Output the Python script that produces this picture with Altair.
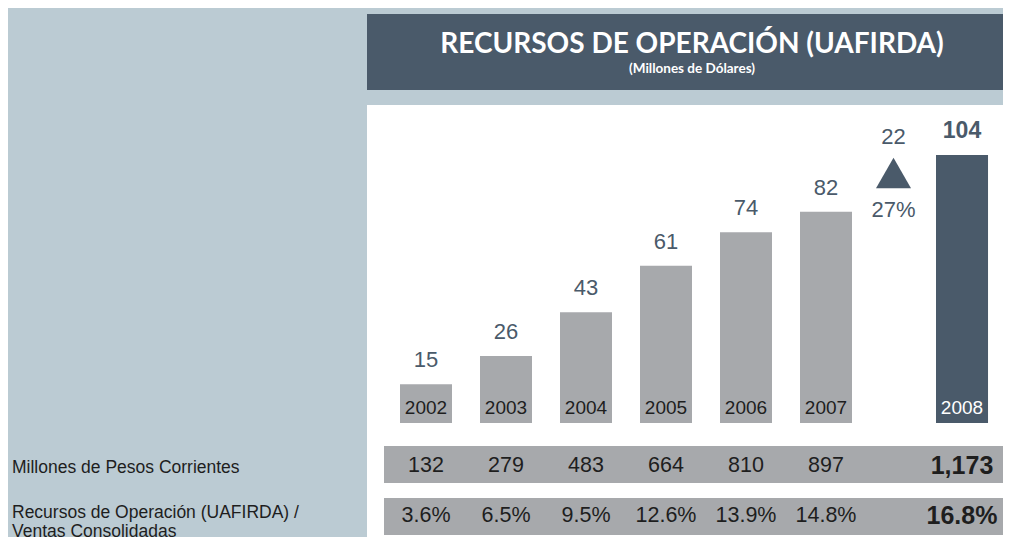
import altair as alt
import pandas as pd

# ---------------- data ----------------
years = ["2002", "2003", "2004", "2005", "2006", "2007", "2008"]
uafirda = [15, 26, 43, 61, 74, 82, 104]          # Millones de Dólares
pesos = ["132", "279", "483", "664", "810", "897", "1,173"]
ratio = ["3.6%", "6.5%", "9.5%", "12.6%", "13.9%", "14.8%", "16.8%"]
growth_abs = "22"
growth_pct = "27%"
title_text = "RECURSOS DE OPERACIÓN (UAFIRDA)"
subtitle_text = "(Millones de Dólares)"
row_label_1 = "Millones de Pesos Corrientes"
row_label_2 = ["Recursos de Operación (UAFIRDA) /", "Ventas Consolidadas"]

df = pd.DataFrame({"year": years, "value": uafirda, "pesos": pesos, "ratio": ratio})
hist = df.iloc[:-1]
cur = df.iloc[-1:]
growth = pd.DataFrame({"year": ["Δ"], "abs": [growth_abs], "pct": [growth_pct]})
one = pd.DataFrame({"k": [0]})

# ---------------- layout / style ----------------
W, H = 995, 529
LIGHT = "#BBCBD3"
DARK = "#4A5A6A"
GREY = "#A7A9AC"
INK = "#1E1E1E"
FONT = "Liberation Sans, sans-serif"
TITLEFONT = "Lato, sans-serif"

xA = alt.X("year:N", axis=None,
           scale=alt.Scale(domain=years[:-1], range=[378, 858],
                           paddingInner=0.35, paddingOuter=0.175))
xB = alt.X("year:N", axis=None,
           scale=alt.Scale(domain=["Δ", years[-1]], range=[851.25, 988.25],
                           paddingInner=0.2409, paddingOuter=0.12))
yS = alt.Y("value:Q", axis=None,
           scale=alt.Scale(domain=[0, max(uafirda)], range=[415, 147]))

base1 = alt.Chart(one)

title_box = base1.mark_rect(color=DARK).encode(
    x=alt.value(359), x2=alt.value(W), y=alt.value(6), y2=alt.value(82))
white_panel = base1.mark_rect(color="white").encode(
    x=alt.value(359), x2=alt.value(W), y=alt.value(97), y2=alt.value(H))
band1 = base1.mark_rect(color=GREY).encode(
    x=alt.value(376), x2=alt.value(W), y=alt.value(438), y2=alt.value(475))
band2 = base1.mark_rect(color=GREY).encode(
    x=alt.value(376), x2=alt.value(W), y=alt.value(490), y2=alt.value(527))

title_mark = base1.mark_text(font=TITLEFONT, fontSize=28, fontWeight="bold",
                             color="white", align="center", baseline="alphabetic").encode(
    x=alt.value(684), y=alt.value(45), text=alt.value(title_text))
subtitle_mark = base1.mark_text(font=TITLEFONT, fontSize=13.5, fontWeight="bold",
                                color="white", align="center", baseline="middle").encode(
    x=alt.value(684), y=alt.value(61), text=alt.value(subtitle_text))

bars_hist = alt.Chart(hist).mark_bar(color=GREY).encode(x=xA, y=yS)
bar_cur = alt.Chart(cur).mark_bar(color=DARK).encode(x=xB, y=yS)

val_hist = alt.Chart(hist).mark_text(font=FONT, fontSize=22, color=DARK,
                                     baseline="alphabetic", dy=-17).encode(
    x=xA, y=yS, text="value:Q")
val_cur = alt.Chart(cur).mark_text(font=FONT, fontSize=23, fontWeight="bold", color=DARK,
                                   baseline="alphabetic", dy=-17).encode(
    x=xB, y=yS, text="value:Q")

yr_hist = alt.Chart(hist).mark_text(font=FONT, fontSize=19, color=INK,
                                    baseline="middle").encode(
    x=xA, y=alt.value(400), text="year:N")
yr_cur = alt.Chart(cur).mark_text(font=FONT, fontSize=19, color="white",
                                  baseline="middle").encode(
    x=xB, y=alt.value(400), text="year:N")

tri = alt.Chart(growth).mark_point(shape="triangle-up", filled=True, size=1225,
                                   color=DARK, opacity=1).encode(
    x=xB, y=alt.value(165))
g_abs = alt.Chart(growth).mark_text(font=FONT, fontSize=22, color=DARK,
                                    baseline="middle").encode(
    x=xB, y=alt.value(129), text="abs:N")
g_pct = alt.Chart(growth).mark_text(font=FONT, fontSize=22, color=DARK,
                                    baseline="middle").encode(
    x=xB, y=alt.value(202), text="pct:N")

row1_hist = alt.Chart(hist).mark_text(font=FONT, fontSize=21.5, color=INK,
                                      baseline="middle").encode(
    x=xA, y=alt.value(458), text="pesos:N")
row1_cur = alt.Chart(cur).mark_text(font=FONT, fontSize=25, fontWeight="bold", color=INK,
                                    baseline="middle").encode(
    x=xB, y=alt.value(458), text="pesos:N")
row2_hist = alt.Chart(hist).mark_text(font=FONT, fontSize=21.5, color=INK,
                                      baseline="middle").encode(
    x=xA, y=alt.value(508), text="ratio:N")
row2_cur = alt.Chart(cur).mark_text(font=FONT, fontSize=25, fontWeight="bold", color=INK,
                                    baseline="middle").encode(
    x=xB, y=alt.value(508), text="ratio:N")

lab1 = base1.mark_text(font=FONT, fontSize=17.5, color=INK, align="left",
                       baseline="middle").encode(
    x=alt.value(4), y=alt.value(460), text=alt.value(row_label_1))
lab2 = base1.mark_text(font=FONT, fontSize=17.5, color=INK, align="left",
                       baseline="alphabetic", lineHeight=19).encode(
    x=alt.value(4), y=alt.value(510), text=alt.value(row_label_2))

chart = alt.layer(
    title_box, white_panel, band1, band2, title_mark, subtitle_mark,
    bars_hist, bar_cur, val_hist, val_cur, yr_hist, yr_cur,
    tri, g_abs, g_pct, row1_hist, row1_cur, row2_hist, row2_cur, lab1, lab2
).resolve_scale(x="independent").properties(
    width=W, height=H, background=LIGHT, padding=0,
    autosize=alt.AutoSizeParams(type="none")
).configure_view(strokeWidth=0)

chart.save("out.html", embed_options={"renderer": "svg", "actions": False})
